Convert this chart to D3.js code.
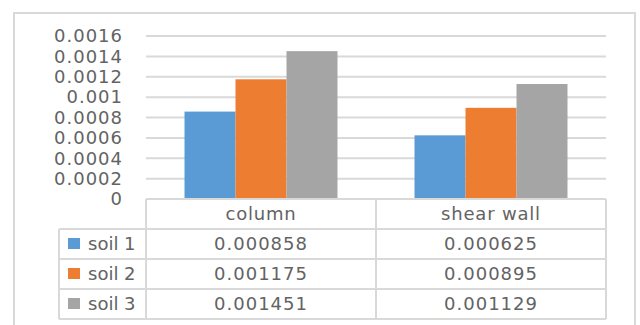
<!DOCTYPE html>
<html>
<head>
<meta charset="utf-8">
<script src="https://cdn.jsdelivr.net/npm/d3@7"></script>
<style>
  html, body { margin: 0; padding: 0; background: #fff; }
  svg { display: block; }
  text { font-family: "DejaVu Sans", sans-serif; fill: #636363; }
</style>
</head>
<body>
<svg id="chart" width="640" height="325"></svg>
<script>
const categories = ["column", "shear wall"];
const seriesNames = ["soil 1", "soil 2", "soil 3"];
const soil1 = [0.000858, 0.000625];
const soil2 = [0.001175, 0.000895];
const soil3 = [0.001451, 0.001129];
const colors = ["#5B9BD5", "#ED7D31", "#A5A5A5"];
const tickValues = [0, 0.0002, 0.0004, 0.0006, 0.0008, 0.001, 0.0012, 0.0014, 0.0016];
const tickLabels = ["0", "0.0002", "0.0004", "0.0006", "0.0008", "0.001", "0.0012", "0.0014", "0.0016"];

const seriesValues = [soil1, soil2, soil3];
const series = seriesNames.map((name, i) => ({ name, color: colors[i], values: seriesValues[i] }));

const svg = d3.select("#chart");
const gridColor = "#d9d9d9";

// outer chart border
svg.append("rect")
  .attr("x", 14).attr("y", 13).attr("width", 621).attr("height", 330)
  .attr("fill", "none").attr("stroke", gridColor).attr("stroke-width", 2);

const plotLeft = 146, plotRight = 606, plotTop = 36, plotBottom = 199;
const x = d3.scaleBand().domain(categories).range([plotLeft, plotRight]).paddingInner(0).paddingOuter(0);
const xs = d3.scaleBand().domain(seriesNames).range([0, x.bandwidth()]).paddingInner(0).paddingOuter(0.755);
const y = d3.scaleLinear().domain([0, 0.0016]).range([plotBottom, plotTop]);

// gridlines
svg.append("g").selectAll("line").data(tickValues.filter(v => v > 0)).join("line")
  .attr("x1", plotLeft).attr("x2", plotRight)
  .attr("y1", d => y(d)).attr("y2", d => y(d))
  .attr("stroke", gridColor).attr("stroke-width", 2);

// y axis labels
const yAxis = d3.axisLeft(y).tickValues(tickValues).tickFormat((d, i) => tickLabels[i]).tickSize(0).tickPadding(0);
const yg = svg.append("g").attr("transform", `translate(123,0)`).call(yAxis);
yg.select(".domain").remove();
yg.selectAll("text").style("font-size", "18px").style("letter-spacing", "1px")
  .attr("fill", "#636363").style("font-family", '"DejaVu Sans", sans-serif');

// bars
const groups = svg.append("g").selectAll("g").data(series).join("g").attr("fill", d => d.color);
groups.selectAll("rect").data(s => s.values.map((v, i) => ({ cat: categories[i], v, name: s.name }))).join("rect")
  .attr("x", d => x(d.cat) + xs(d.name))
  .attr("width", xs.bandwidth())
  .attr("y", d => y(d.v))
  .attr("height", d => y(0) - y(d.v));

// data table
const rowH = 30;
const tableLeft = 59;
const headerTop = plotBottom;
const rowsTop = headerTop + rowH;
const tableBottom = rowsTop + rowH * series.length;
const tg = svg.append("g").attr("stroke", gridColor).attr("stroke-width", 2);
tg.append("line").attr("x1", plotLeft).attr("x2", plotRight).attr("y1", headerTop).attr("y2", headerTop);
[0, 1, 2, 3].forEach(i => {
  tg.append("line").attr("x1", tableLeft).attr("x2", plotRight)
    .attr("y1", rowsTop + i * rowH).attr("y2", rowsTop + i * rowH);
});
tg.append("line").attr("x1", tableLeft).attr("x2", tableLeft).attr("y1", rowsTop).attr("y2", tableBottom);
[plotLeft, x(categories[1]), plotRight].forEach(xx => {
  tg.append("line").attr("x1", xx).attr("x2", xx).attr("y1", headerTop).attr("y2", tableBottom);
});

// header text
svg.append("g").selectAll("text").data(categories).join("text")
  .attr("x", d => x(d) + x.bandwidth() / 2)
  .attr("y", headerTop + rowH / 2)
  .attr("dy", "0.35em")
  .attr("text-anchor", "middle")
  .style("font-size", "18px")
  .style("letter-spacing", "0.8px")
  .text(d => d);

// rows
series.forEach((s, r) => {
  const cy = rowsTop + r * rowH + rowH / 2;
  svg.append("rect").attr("x", 68).attr("y", cy - 6).attr("width", 12).attr("height", 11).attr("fill", s.color);
  svg.append("text").attr("x", 88).attr("y", cy).attr("dy", "0.35em").style("font-size", "18px").text(s.name);
  s.values.forEach((v, i) => {
    svg.append("text")
      .attr("x", x(categories[i]) + x.bandwidth() / 2)
      .attr("y", cy).attr("dy", "0.35em")
      .attr("text-anchor", "middle")
      .style("font-size", "18px")
      .style("letter-spacing", "1px")
      .text(v.toFixed(6));
  });
});
</script>
</body>
</html>
